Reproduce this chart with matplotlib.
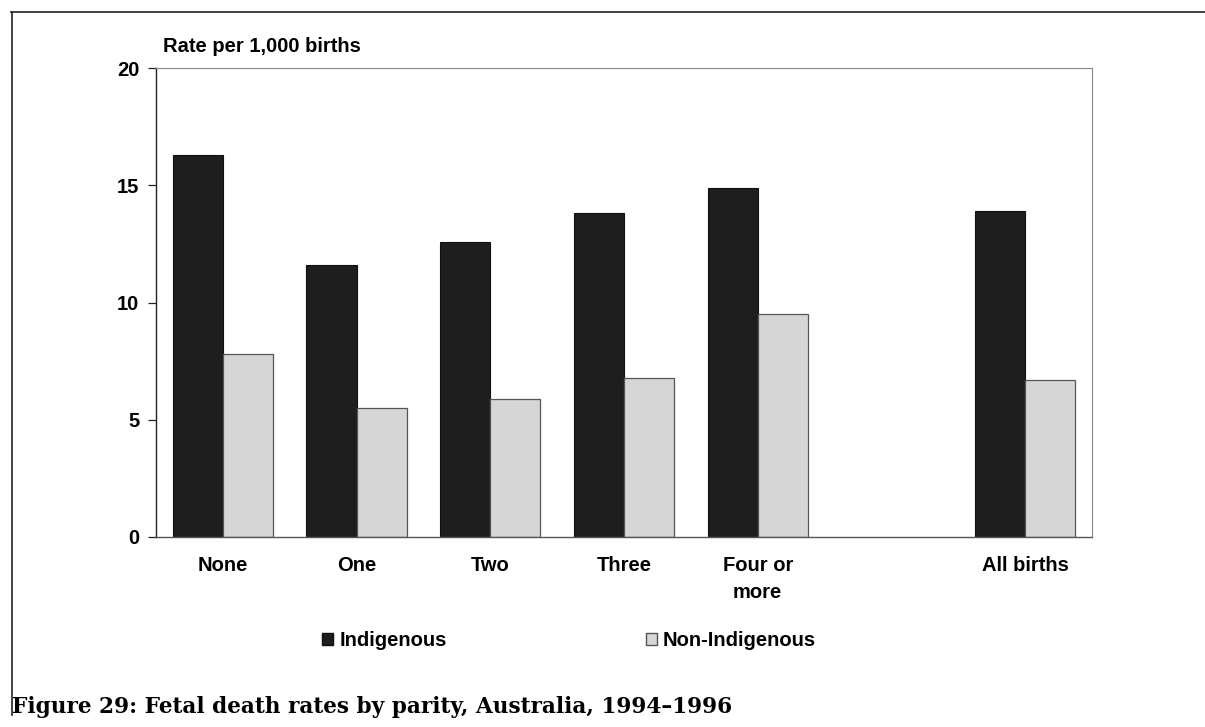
import matplotlib
matplotlib.use("Agg")
import matplotlib.pyplot as plt
from matplotlib.lines import Line2D
from matplotlib.patches import Patch

categories = ["None", "One", "Two", "Three", "Four or\nmore", "All births"]
slots = [0, 1, 2, 3, 4, 6]
indigenous = [16.3, 11.6, 12.6, 13.8, 14.9, 13.9]
non_indigenous = [7.8, 5.5, 5.9, 6.8, 9.5, 6.7]
yticks = [0, 5, 10, 15, 20]

plt.rcParams['font.family'] = ['Liberation Sans', 'DejaVu Sans']
FS = 14.5
FW = 'bold'

fig = plt.figure(figsize=(12.05, 7.27), dpi=100)
ax = fig.add_axes([156/1205, 1-537/727, (1092-156)/1205, (537-68)/727])

w = 0.375
ax.bar([s - w/2 for s in slots], indigenous, width=w, color='#1e1e1e',
       edgecolor='#111111', linewidth=0.8, label='Indigenous')
ax.bar([s + w/2 for s in slots], non_indigenous, width=w, color='#d6d6d6',
       edgecolor='#555555', linewidth=0.9, label='Non-Indigenous')

ax.set_xlim(-0.5, 6.5)
ax.set_ylim(0, 20)
ax.set_yticks(yticks)
ax.set_yticklabels([str(t) for t in yticks], fontsize=FS, fontweight=FW)
ax.set_xticks(slots)
ax.set_xticklabels(categories, fontsize=FS, fontweight=FW, linespacing=1.5, va='top')
ax.tick_params(axis='x', length=0, pad=14)
ax.tick_params(axis='y', length=6, width=0.9, direction='out', pad=6, color='#222222')

for side in ['top', 'right']:
    ax.spines[side].set_color('#888888')
    ax.spines[side].set_linewidth(0.8)
ax.spines['left'].set_color('#222222')
ax.spines['left'].set_linewidth(1.0)
ax.spines['bottom'].set_color('#555555')
ax.spines['bottom'].set_linewidth(1.0)

fig.text(163/1205, 1-46/727, "Rate per 1,000 births", fontsize=FS, fontweight=FW,
         ha='left', va='center')

handles = [Patch(facecolor='#1e1e1e', edgecolor='#111111'),
           Patch(facecolor='#d6d6d6', edgecolor='#555555')]
fig.legend(handles, ['Indigenous', 'Non-Indigenous'], loc='center left',
           bbox_to_anchor=(312/1205, 1-641/727), ncol=2, frameon=False,
           prop={'size': FS, 'weight': FW}, handlelength=0.55, handleheight=0.55,
           handletextpad=0.3, columnspacing=9.9, borderpad=0)

# outer frame
fig.add_artist(Line2D([11/1205, 1.0], [1-12/727, 1-12/727], color='#222222', lw=1.2))
fig.add_artist(Line2D([12/1205, 12/1205], [1-12/727, 1-715/727], color='#222222', lw=1.2))

fig.text(12/1205, 1-707/727, "Figure 29: Fetal death rates by parity, Australia, 1994\u20131996",
         fontsize=15.6, fontweight='bold', family=['DejaVu Serif'],
         ha='left', va='center')

fig.savefig("out.png", dpi=100)
